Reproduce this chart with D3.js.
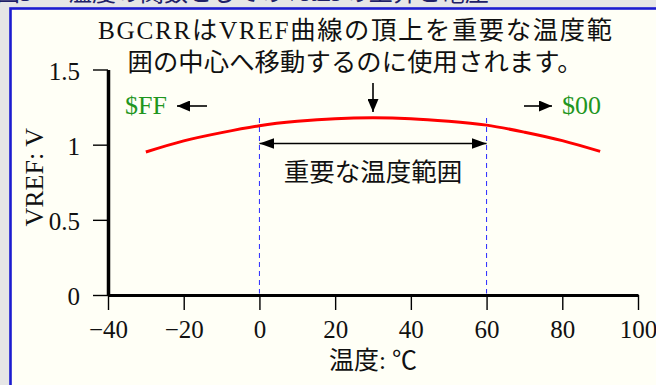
<!DOCTYPE html>
<html><head><meta charset="utf-8">
<script src="https://cdn.jsdelivr.net/npm/d3@7"></script>
<style>
html,body{margin:0;padding:0;background:#e6e6e6;overflow:hidden;}
svg{display:block;}
text{font-family:"Liberation Serif","Noto Sans CJK JP",serif;}
</style></head>
<body>
<svg id="c" width="656" height="385"></svg>
<script>
// data
const temps = [-30, -20, -10, 0, 10, 20, 30, 40, 50, 60, 70, 80, 90];
const vref  = [0.951, 1.025, 1.080, 1.126, 1.155, 1.173, 1.179, 1.173, 1.156, 1.130, 1.083, 1.027, 0.955];
const xTicks = [-40, -20, 0, 20, 40, 60, 80, 100];
const yTicks = [0, 0.5, 1, 1.5];
const rangeMarks = [0, 60];
const noteLines = ["BGCRRはVREF曲線の頂上を重要な温度範", "囲の中心へ移動するのに使用されます。"];
const noteWidths = [514, 455];
const rangeLabel = "重要な温度範囲";
const xTitle = "温度: ℃";
const yTitle = "VREF: V";
const leftTag = "$FF", rightTag = "$00";
const pageTitle = "図3 — 温度の関数としてのVREFの上昇と電圧";

const svg = d3.select("#c");
const x = d3.scaleLinear().domain([-40, 100]).range([108, 638]);
const y = d3.scaleLinear().domain([0, 1.5]).range([295, 69.5]);

// page title (cropped at top)
svg.append("text").attr("x", -4).attr("y", 0.5).attr("font-size", 24)
  .attr("fill", "#202068").text(pageTitle);

// panel
svg.append("rect").attr("x", 10.5).attr("y", 8.5).attr("width", 700).attr("height", 420)
  .attr("fill", "#fffff6").attr("stroke", "#1c1cd0").attr("stroke-width", 2.6);

// defs: arrowheads
const defs = svg.append("defs");
defs.append("marker").attr("id", "ah").attr("viewBox", "0 0 15 11")
  .attr("refX", 15).attr("refY", 5.5).attr("markerWidth", 15).attr("markerHeight", 11)
  .attr("markerUnits", "userSpaceOnUse").attr("orient", "auto-start-reverse")
  .append("path").attr("d", "M0,0L15,5.5L0,11Z").attr("fill", "#000");
defs.append("marker").attr("id", "ahs").attr("viewBox", "0 0 13 11")
  .attr("refX", 13).attr("refY", 5.5).attr("markerWidth", 13).attr("markerHeight", 11)
  .attr("markerUnits", "userSpaceOnUse").attr("orient", "auto")
  .append("path").attr("d", "M0,0L13,5.5L0,11Z").attr("fill", "#000");

// axes
const xAxis = d3.axisBottom(x).tickValues(xTicks).tickSizeInner(15).tickSizeOuter(0).tickPadding(10)
  .tickFormat(d => d < 0 ? "\u2212" + Math.abs(d) : d);
const gx = svg.append("g").attr("transform", `translate(0,${y(0)})`).call(xAxis);
gx.select(".domain").attr("stroke", "#000").attr("stroke-width", 3);
gx.selectAll(".tick line").attr("stroke", "#000").attr("stroke-width", 1.4);
gx.selectAll(".tick text").attr("font-size", 25).attr("fill", "#111")
  .style("font-family", '"Liberation Serif",serif');

const yAxis = d3.axisLeft(y).tickValues(yTicks).tickSizeInner(15).tickSizeOuter(0).tickPadding(13)
  .tickFormat(d => d);
const gy = svg.append("g").attr("transform", `translate(${x(-40)},0)`).call(yAxis);
gy.select(".domain").attr("stroke", "#000").attr("stroke-width", 3.5);
gy.selectAll(".tick line").attr("stroke", "#000").attr("stroke-width", 1.4);
gy.selectAll(".tick text").attr("font-size", 25).attr("fill", "#111").attr("dy", "0.38em")
  .style("font-family", '"Liberation Serif",serif');

// axis titles
svg.append("text").attr("x", x(30)).attr("y", 369).attr("text-anchor", "middle")
  .attr("font-size", 25).attr("fill", "#111").text(xTitle);
svg.append("text").attr("transform", `translate(43,${(y(0) + y(1.5)) / 2 - 5}) rotate(-90)`)
  .attr("text-anchor", "middle").attr("font-size", 26).attr("fill", "#111").text(yTitle);

// range dashed lines
svg.selectAll("line.rng").data(rangeMarks).join("line").attr("class", "rng")
  .attr("x1", d => x(d)).attr("x2", d => x(d)).attr("y1", 118).attr("y2", y(0) - 1.5)
  .attr("stroke", "#2a2aff").attr("stroke-width", 1).attr("stroke-dasharray", "5,4");

// curve
const line = d3.line().x((d, i) => x(temps[i])).y(d => y(d)).curve(d3.curveNatural);
svg.append("path").datum(vref).attr("d", line).attr("fill", "none")
  .attr("stroke", "#ff0000").attr("stroke-width", 3);

// double arrow
svg.append("line").attr("x1", x(rangeMarks[0])).attr("x2", x(rangeMarks[1]))
  .attr("y1", 143.5).attr("y2", 143.5).attr("stroke", "#000").attr("stroke-width", 1.6)
  .attr("marker-start", "url(#ah)").attr("marker-end", "url(#ah)");
svg.append("text").attr("x", x(30)).attr("y", 181).attr("text-anchor", "middle")
  .attr("font-size", 25.5).attr("fill", "#111").text(rangeLabel);

// note text
svg.selectAll("text.note").data(noteLines).join("text").attr("class", "note")
  .attr("x", 355).attr("y", (d, i) => 38.5 + i * 32.5).attr("text-anchor", "middle")
  .attr("font-size", 25.3).attr("fill", "#111")
  .attr("textLength", (d, i) => noteWidths[i]).attr("lengthAdjust", "spacing")
  .text(d => d);

// down arrow
svg.append("line").attr("x1", x(30)).attr("x2", x(30)).attr("y1", 83).attr("y2", 112)
  .attr("stroke", "#000").attr("stroke-width", 1.6).attr("marker-end", "url(#ahs)");

// $FF / $00 tags
svg.append("text").attr("x", 125).attr("y", 114).attr("font-size", 26).attr("fill", "#1f961f").text(leftTag);
svg.append("line").attr("x1", 207).attr("x2", 177).attr("y1", 106).attr("y2", 106)
  .attr("stroke", "#000").attr("stroke-width", 1.6).attr("marker-end", "url(#ahs)");
svg.append("line").attr("x1", 524).attr("x2", 552).attr("y1", 106).attr("y2", 106)
  .attr("stroke", "#000").attr("stroke-width", 1.6).attr("marker-end", "url(#ahs)");
svg.append("text").attr("x", 562).attr("y", 114).attr("font-size", 26).attr("fill", "#1f961f").text(rightTag);
</script>
</body></html>
